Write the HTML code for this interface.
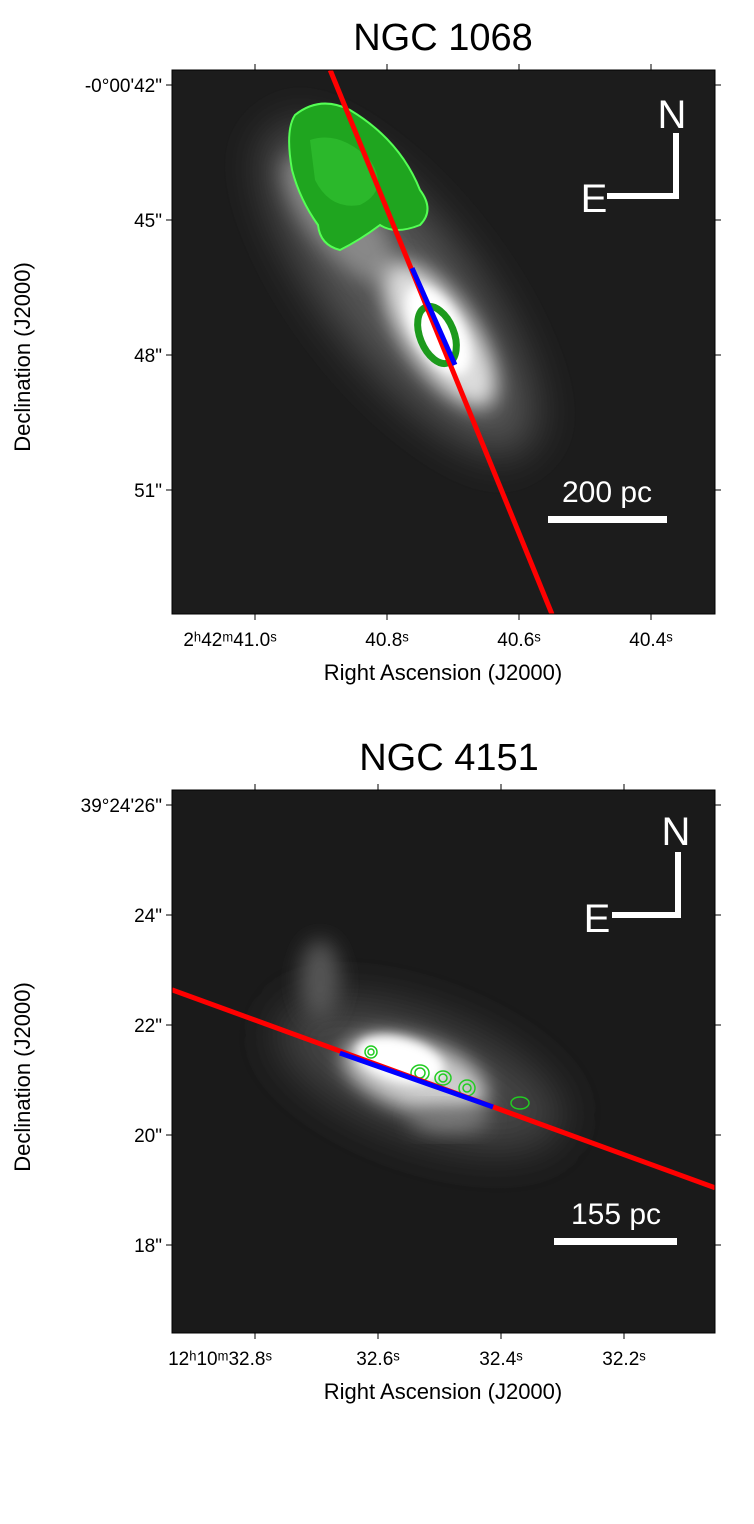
<!DOCTYPE html>
<html><head><meta charset="utf-8"><style>
body{margin:0;background:#fff;width:754px;height:1519px;overflow:hidden;font-family:"Liberation Sans",sans-serif}
svg text{font-family:"Liberation Sans","DejaVu Sans",sans-serif}
</style></head><body>
<svg width="754" height="1519">
<defs>
<filter id="b8" x="-50%" y="-50%" width="200%" height="200%"><feGaussianBlur stdDeviation="10"/></filter>
<filter id="b4" x="-50%" y="-50%" width="200%" height="200%"><feGaussianBlur stdDeviation="5"/></filter>
<filter id="b20" x="-50%" y="-50%" width="200%" height="200%"><feGaussianBlur stdDeviation="22"/></filter>
<clipPath id="c1"><rect x="172" y="70" width="543" height="544"/></clipPath>
<clipPath id="c2"><rect x="172" y="790" width="543" height="543"/></clipPath>
</defs>
<g id="p1">
<text x="443" y="50" font-size="38" text-anchor="middle">NGC 1068</text>
<g clip-path="url(#c1)">
<rect x="172" y="70" width="543" height="544" fill="#1c1c1c"/>
<ellipse cx="400" cy="290" rx="70" ry="200" fill="#555" filter="url(#b20)" transform="rotate(-38 400 290)"/>
<ellipse cx="340" cy="220" rx="30" ry="80" fill="#888" filter="url(#b8)" transform="rotate(-40 340 220)"/>
<ellipse cx="440" cy="335" rx="35" ry="85" fill="#ddd" filter="url(#b8)" transform="rotate(-35 440 335)"/>
<ellipse cx="438" cy="330" rx="24" ry="50" fill="#fff" filter="url(#b4)" transform="rotate(-30 438 330)"/>
<path d="M295 115 Q320 95 350 110 Q400 140 420 190 Q435 210 420 225 Q395 235 380 225 Q360 240 340 250 Q320 245 318 225 Q300 200 292 170 Q285 130 295 115Z" fill="#1fa51f" stroke="#5f5" stroke-width="2"/>
<path d="M310 140 Q340 130 370 160 Q390 190 360 205 Q330 210 315 180Z" fill="#30c030" opacity="0.7"/>
<ellipse cx="437" cy="335" rx="17" ry="30" fill="none" stroke="#1c9a1c" stroke-width="7" transform="rotate(-22 437 335)"/>
<line id="r1" stroke="red" stroke-width="5"/>
<line id="bl1" stroke="blue" stroke-width="5"/>
</g>
<rect x="172" y="70" width="543" height="544" fill="none" stroke="#000" stroke-width="1"/>
<g id="ax1"></g>
<text x="15" y="342" font-size="22" text-anchor="middle" transform="rotate(-90 30 342)">Declination (J2000)</text>
<text x="443" y="680" font-size="22" text-anchor="middle">Right Ascension (J2000)</text>
<text x="607" y="502" font-size="30" fill="#fff" text-anchor="middle">200 pc</text>
<rect x="548" y="516" width="119" height="7" fill="#fff"/>
<text x="672" y="128" font-size="40" fill="#fff" text-anchor="middle">N</text>
<path d="M676 133V196H607" fill="none" stroke="#fff" stroke-width="6"/>
<text x="594" y="212" font-size="40" fill="#fff" text-anchor="middle">E</text>
</g>
<g id="p2">
<text x="449" y="770" font-size="38" text-anchor="middle">NGC 4151</text>
<g clip-path="url(#c2)">
<rect x="172" y="790" width="543" height="543" fill="#1a1a1a"/>
<ellipse cx="420" cy="1075" rx="150" ry="60" fill="#444" filter="url(#b20)" transform="rotate(20 420 1075)"/>
<ellipse cx="320" cy="980" rx="20" ry="40" fill="#555" filter="url(#b8)"/>
<ellipse cx="415" cy="1075" rx="75" ry="35" fill="#ccc" filter="url(#b8)" transform="rotate(18 415 1075)"/>
<ellipse cx="400" cy="1060" rx="45" ry="22" fill="#fff" filter="url(#b4)" transform="rotate(15 400 1060)"/>
<ellipse cx="450" cy="1120" rx="40" ry="12" fill="#777" filter="url(#b8)"/>
<g fill="none" stroke="#2c2" stroke-width="1.5">
<ellipse cx="371" cy="1052" rx="6" ry="6"/><ellipse cx="371" cy="1052" rx="3" ry="3"/>
<ellipse cx="420" cy="1073" rx="9" ry="8"/><ellipse cx="420" cy="1073" rx="5" ry="5"/>
<ellipse cx="443" cy="1078" rx="8" ry="7"/><ellipse cx="443" cy="1078" rx="4" ry="4"/>
<ellipse cx="467" cy="1088" rx="8" ry="8"/><ellipse cx="467" cy="1088" rx="4" ry="4"/>
<ellipse cx="520" cy="1103" rx="9" ry="6"/>
</g>
<line id="r2" stroke="red" stroke-width="5"/>
<line id="bl2" stroke="blue" stroke-width="5"/>
</g>
<rect x="172" y="790" width="543" height="543" fill="none" stroke="#000" stroke-width="1"/>
<g id="ax2"></g>
<text x="15" y="1062" font-size="22" text-anchor="middle" transform="rotate(-90 30 1062)">Declination (J2000)</text>
<text x="443" y="1399" font-size="22" text-anchor="middle">Right Ascension (J2000)</text>
<text x="616" y="1224" font-size="30" fill="#fff" text-anchor="middle">155 pc</text>
<rect x="554" y="1238" width="123" height="7" fill="#fff"/>
<text x="676" y="845" font-size="40" fill="#fff" text-anchor="middle">N</text>
<path d="M678 852V915H612" fill="none" stroke="#fff" stroke-width="6"/>
<text x="597" y="932" font-size="40" fill="#fff" text-anchor="middle">E</text>
</g>
</svg>
<script>
// Panel 1 data (RA seconds, Dec arcsec offsets)
const p1RaTicks=[41.0,40.8,40.6,40.4];
const p1RaLabels=['2ʰ42ᵐ41.0ˢ','40.8ˢ','40.6ˢ','40.4ˢ'];
const p1DecTicks=[42,45,48,51];
const p1DecLabels=['-0°00\'42"','45"','48"','51"'];
const p1Red=[[40.886,41.67],[40.55,53.76]];
const p1Blue=[[40.762,46.07],[40.697,48.22]];
// Panel 2 data
const p2RaTicks=[32.8,32.6,32.4,32.2];
const p2RaLabels=['12ʰ10ᵐ32.8ˢ','32.6ˢ','32.4ˢ','32.2ˢ'];
const p2DecTicks=[26,24,22,20,18];
const p2DecLabels=['39°24\'26"','24"','22"','20"','18"'];
const p2Red=[[32.935,22.64],[32.052,19.04]];
const p2Blue=[[32.662,21.49],[32.413,20.51]];
const NS='http://www.w3.org/2000/svg';
function mk(tag,attrs,parent){const e=document.createElementNS(NS,tag);for(const k in attrs)e.setAttribute(k,attrs[k]);parent.appendChild(e);return e;}
function panel(g,xs,ys,raT,raL,decT,decL,x0,y0,x1,y1,red,blue,r,b,xlx){
  raT.forEach((v,i)=>{const x=xs(v);
    const t=mk('line',{x1:x,x2:x,y1:y1,y2:y1+6,stroke:'#000'},g);
    
    
    const tt=mk('line',{x1:x,x2:x,y1:y0,y2:y0-6,stroke:'#000'},g);
    
    
    const tx=mk('text',{x:i==0?x+xlx:x,y:y1+32,'font-size':19,'text-anchor':'middle'},g);tx.textContent=raL[i];
    
    });
  decT.forEach((v,i)=>{const y=ys(v);
    const t=mk('line',{x1:x0,x2:x0-6,y1:y,y2:y,stroke:'#000'},g);
    
    
    const tr=mk('line',{x1:x1,x2:x1+6,y1:y,y2:y,stroke:'#000'},g);
    
    
    const tx=mk('text',{x:x0-10,y:y+7,'font-size':19,'text-anchor':'end'},g);tx.textContent=decL[i];
    
    });
  const R=document.getElementById(r),B=document.getElementById(b);
  R.setAttribute('x1',xs(red[0][0]));R.setAttribute('y1',ys(red[0][1]));R.setAttribute('x2',xs(red[1][0]));R.setAttribute('y2',ys(red[1][1]));
  B.setAttribute('x1',xs(blue[0][0]));B.setAttribute('y1',ys(blue[0][1]));B.setAttribute('x2',xs(blue[1][0]));B.setAttribute('y2',ys(blue[1][1]));
}
const xs1=v=>255+(41.0-v)/0.2*132, ys1=v=>85+(v-42)/3*135;
const xs2=v=>255+(32.8-v)/0.2*123, ys2=v=>805+(26-v)/2*110;
panel(document.getElementById('ax1'),xs1,ys1,p1RaTicks,p1RaLabels,p1DecTicks,p1DecLabels,172,70,715,614,p1Red,p1Blue,'r1','bl1',-25);
panel(document.getElementById('ax2'),xs2,ys2,p2RaTicks,p2RaLabels,p2DecTicks,p2DecLabels,172,790,715,1333,p2Red,p2Blue,'r2','bl2',-35);
</script>
</body></html>
